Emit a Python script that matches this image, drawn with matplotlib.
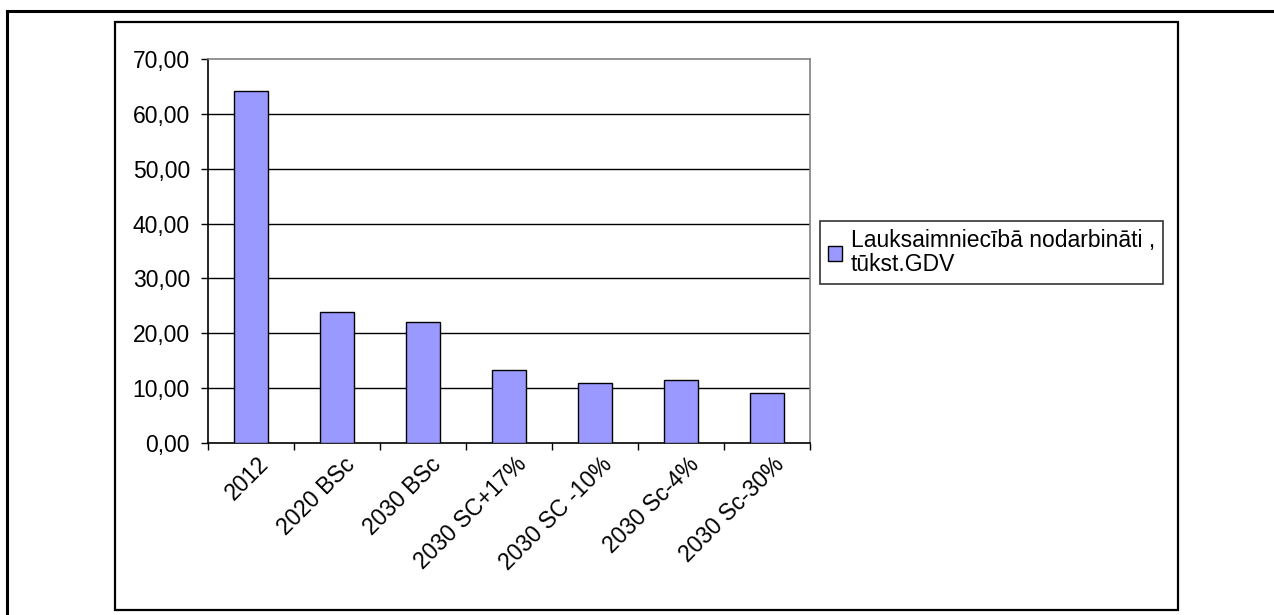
import matplotlib
matplotlib.use("Agg")
import matplotlib.pyplot as plt
from matplotlib.patches import Rectangle
from matplotlib.lines import Line2D
import numpy as np

categories = ["2012", "2020 BSc", "2030 BSc", "2030 SC+17%", "2030 SC -10%", "2030 Sc-4%", "2030 Sc-30%"]
values = [64.2, 23.8, 22.0, 13.35, 11.0, 11.5, 9.2]
series_label = "Lauksaimniecībā nodarbināti ,\ntūkst.GDV"
yticks = [0, 10, 20, 30, 40, 50, 60, 70]

plt.rcParams['font.family'] = ['Liberation Sans', 'DejaVu Sans']

W, H = 1274, 615
fig = plt.figure(figsize=(W / 100, H / 100), dpi=100)
fig.patch.set_facecolor("white")

def fx(px):
    return px / W

def fy(py):
    return (H - py) / H

FS = 16.5

# outer partial frame lines
fig.add_artist(Line2D([fx(7), fx(7)], [0, fy(11)], transform=fig.transFigure, color="black", lw=2.2))
fig.add_artist(Line2D([fx(7), 1.0], [fy(11), fy(11)], transform=fig.transFigure, color="black", lw=2.2))
# chart frame
fig.add_artist(Rectangle((fx(115), fy(610)), fx(1178) - fx(115), fy(22) - fy(610),
                         transform=fig.transFigure, fill=False, edgecolor="black", lw=1.6))

ax = fig.add_axes([fx(208), fy(443), fx(810) - fx(208), fy(59) - fy(443)])
x = np.arange(len(categories))
ax.bar(x + 0.5, values, width=0.4, color="#9999FF", edgecolor="black", linewidth=1.0, zorder=3,
       label=series_label)
ax.set_xlim(0, len(categories))
ax.set_ylim(0, 70)
ax.set_yticks(yticks)
ax.set_yticklabels([f"{v:.2f}".replace(".", ",") for v in yticks], fontsize=FS)
for v in yticks[1:-1]:
    ax.axhline(v, color="black", lw=1.0, zorder=1)

ax.set_xticks(np.arange(len(categories) + 1))
ax.set_xticklabels([])
ax.tick_params(axis="x", direction="out", length=5, width=1, color="black")
ax.tick_params(axis="y", direction="out", length=5, width=1, color="black", pad=8)
for i, c in enumerate(categories):
    ax.text(i + 0.57, -1.8, c, rotation=45, ha="right", va="top", rotation_mode="anchor",
            fontsize=FS, transform=ax.transData)

ax.spines["left"].set_color("black")
ax.spines["bottom"].set_color("black")
ax.spines["top"].set_color("#808080")
ax.spines["right"].set_color("#808080")
for s in ax.spines.values():
    s.set_linewidth(1.2)

leg = ax.legend(loc="upper left", bbox_to_anchor=(fx(820), fy(221)), bbox_transform=fig.transFigure,
                borderaxespad=0, fontsize=FS, frameon=True, fancybox=False, handlelength=0.6,
                handleheight=0.6, handletextpad=0.4, borderpad=0.35)
for t in leg.get_texts():
    t.set_linespacing(1.05)
leg.get_frame().set_edgecolor("black")
leg.get_frame().set_linewidth(1.2)

fig.savefig("out.png", dpi=100)
